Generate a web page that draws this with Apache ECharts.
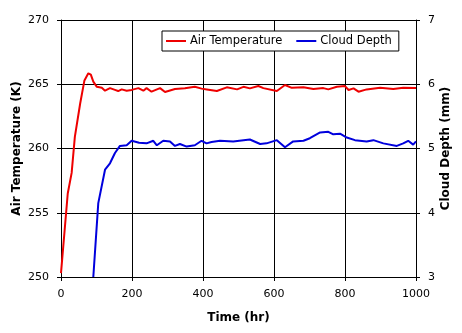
<!DOCTYPE html>
<html><head><meta charset="utf-8">
<script src="https://cdn.jsdelivr.net/npm/echarts@6/dist/echarts.min.js"></script>
<style>html,body{margin:0;padding:0;background:#fff}#c{width:462px;height:333px}</style>
</head><body><div id="c"></div>
<script>
const tempTime = [0,19,30,39,54,66,77,84,91,101,115,124,138,152,161,171,185,199,218,232,241,255,279,293,321,349,377,396,411,439,467,496,514,532,556,570,608,631,650,683,711,739,753,777,800,810,824,838,861,899,936,964,1000];
const airTemp = [250.3,256.5,258.1,260.9,263.5,265.3,265.85,265.75,265.2,264.8,264.72,264.5,264.7,264.56,264.47,264.6,264.5,264.56,264.7,264.5,264.7,264.42,264.7,264.4,264.63,264.68,264.8,264.66,264.6,264.47,264.76,264.6,264.8,264.68,264.86,264.7,264.47,264.94,264.72,264.76,264.63,264.7,264.6,264.8,264.86,264.55,264.68,264.42,264.6,264.72,264.63,264.72,264.7];
const cloudTime = [91,105,124,138,152,166,185,199,220,241,260,270,288,307,321,335,354,377,396,410,424,448,485,532,561,579,608,631,654,683,701,730,753,767,786,805,828,861,880,908,946,964,978,992,1000];
const cloudDepth = [3.0,4.15,4.67,4.77,4.93,5.04,5.05,5.12,5.09,5.08,5.12,5.05,5.12,5.11,5.04,5.07,5.03,5.05,5.12,5.08,5.10,5.12,5.11,5.14,5.07,5.08,5.13,5.02,5.11,5.12,5.16,5.25,5.26,5.22,5.23,5.17,5.13,5.11,5.13,5.08,5.04,5.08,5.12,5.06,5.11];
const xTicks = {min:0, max:1000, interval:200};
const leftTicks = {min:250, max:270, interval:5};
const rightTicks = {min:3, max:7, interval:1};
const seriesNames = ['Air Temperature','Cloud Depth'];

const FONT = '"DejaVu Sans", Verdana, sans-serif';
const chart = echarts.init(document.getElementById('c'), null, {renderer:'canvas'});
const axisLine = {show:true, lineStyle:{color:'#000', width:1}};
const axisTick = {show:true, inside:false, length:4, lineStyle:{color:'#000'}};
const label = {color:'#000', fontFamily:FONT, fontSize:11, formatter:v=>String(v)};
const nameStyle = {color:'#000', fontFamily:FONT, fontSize:12, fontWeight:'bold'};
chart.setOption({
  animation:false,
  backgroundColor:'#fff',
  grid:{left:61, right:46, top:20, bottom:56, containLabel:false, outerBoundsMode:'none'},
  legend:{
    left:162, top:31, orient:'horizontal',
    data:seriesNames,
    backgroundColor:'#fff', borderColor:'#000', borderWidth:1,
    padding:[4,7,4,4], itemGap:14, itemWidth:20, itemHeight:2,
    icon:'rect',
    textStyle:{color:'#000', fontFamily:FONT, fontSize:11.5, padding:[0,0,0,-1]}
  },
  xAxis:{type:'value', min:xTicks.min, max:xTicks.max, interval:xTicks.interval,
    name:'Time (hr)', nameLocation:'middle', nameGap:35, nameMoveOverlap:false, nameTextStyle:nameStyle,
    axisLine:axisLine, axisTick:axisTick, axisLabel:Object.assign({margin:12},label),
    splitLine:{show:true, lineStyle:{color:'#000', width:1}}},
  yAxis:[
    {type:'value', min:leftTicks.min, max:leftTicks.max, interval:leftTicks.interval, position:'left',
     name:'Air Temperature (K)', nameLocation:'middle', nameGap:38, nameMoveOverlap:false, nameTextStyle:nameStyle,
     axisLine:axisLine, axisTick:axisTick, axisLabel:Object.assign({margin:12},label),
     splitLine:{show:true, lineStyle:{color:'#000', width:1}}},
    {type:'value', min:rightTicks.min, max:rightTicks.max, interval:rightTicks.interval, position:'right',
     name:'Cloud Depth (mm)', nameLocation:'middle', nameGap:24, nameMoveOverlap:false, nameTextStyle:nameStyle,
     axisLine:axisLine, axisTick:axisTick, axisLabel:Object.assign({margin:12},label),
     splitLine:{show:false}}
  ],
  series:[
    {name:seriesNames[0], type:'line', yAxisIndex:0, showSymbol:false, symbol:'none',
     lineStyle:{color:'#ee0000', width:2}, itemStyle:{color:'#ee0000'},
     data:tempTime.map((t,i)=>[t,airTemp[i]])},
    {name:seriesNames[1], type:'line', yAxisIndex:1, showSymbol:false, symbol:'none',
     lineStyle:{color:'#0000dd', width:2}, itemStyle:{color:'#0000dd'},
     data:cloudTime.map((t,i)=>[t,cloudDepth[i]])}
  ]
});
</script></body></html>
